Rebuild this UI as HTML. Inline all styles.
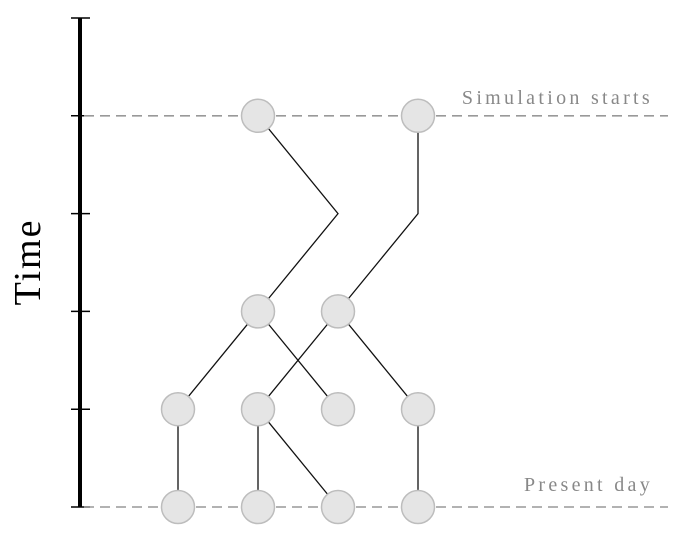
<!DOCTYPE html>
<html><head><meta charset="utf-8"><style>
html,body{margin:0;padding:0;background:#fff;}
svg{display:block;}
</style></head><body>
<svg id="chart" width="694" height="536" viewBox="0 0 694 536" xmlns="http://www.w3.org/2000/svg">
<g id="axis"></g>
<g id="guides"></g>
<g id="edges"></g>
<g id="nodes"></g>
<text x="28" y="262" transform="rotate(-90 28 262)" text-anchor="middle" dominant-baseline="central" font-family="Liberation Serif, serif" font-size="38" letter-spacing="2" fill="#000">Time</text>
<text x="653" y="104" text-anchor="end" font-family="Liberation Serif, serif" font-size="20" fill="#888" letter-spacing="3.3">Simulation starts</text>
<text x="653" y="491" text-anchor="end" font-family="Liberation Serif, serif" font-size="20" fill="#888" letter-spacing="3.3">Present day</text>
</svg>
<script>
// time levels (0 = top tick, 5 = present day)
const tickLevels = [0,1,2,3,4,5];
const guideLevels = [1,5];
// node columns and levels
const nodeCols = [1,3, 1,2, 0,1,2,3, 0,1,2,3];
const nodeLevels = [1,1, 3,3, 4,4,4,4, 5,5,5,5];
// edge paths as sequences of [col,level]
const edgePaths = [
  [[1,1],[2,2],[1,3]],
  [[3,1],[3,2],[2,3]],
  [[1,3],[0,4]],
  [[1,3],[2,4]],
  [[2,3],[1,4]],
  [[2,3],[3,4]],
  [[0,4],[0,5]],
  [[1,4],[1,5]],
  [[1,4],[2,5]],
  [[3,4],[3,5]]
];
const NS='http://www.w3.org/2000/svg';
const xS = c => 178 + c*80;
const yS = l => 18 + l*97.8;
function mk(tag, attrs, parent){const e=document.createElementNS(NS,tag);for(const k in attrs)e.setAttribute(k,attrs[k]);parent.appendChild(e);return e;}
const axis=document.getElementById('axis');
let al=mk('line',{x1:80,x2:80,y1:yS(0),y2:yS(5),stroke:'#000','stroke-width':4},axis);


tickLevels.forEach(l=>{
  const t=mk('line',{x1:71,x2:90,y1:yS(l),y2:yS(l),stroke:'#000','stroke-width':1.5},axis);
  
  
});
const guides=document.getElementById('guides');
guideLevels.forEach(l=>{
  const g=mk('line',{x1:84,x2:668,y1:yS(l),y2:yS(l),stroke:'#999','stroke-width':1.6,'stroke-dasharray':'10 6'},guides);
  
  
});
const edges=document.getElementById('edges');
edgePaths.forEach(p=>{
  const pl=mk('polyline',{points:p.map(q=>xS(q[0])+','+yS(q[1])).join(' '),fill:'none',stroke:'#111','stroke-width':1.3},edges);
  
  
});
const nodes=document.getElementById('nodes');
nodeCols.forEach((c,i)=>{
  const n=mk('circle',{cx:xS(c),cy:yS(nodeLevels[i]),r:16.5,fill:'#e5e5e5',stroke:'#bdbdbd','stroke-width':1.5},nodes);
  
  
});
</script>
</body></html>
